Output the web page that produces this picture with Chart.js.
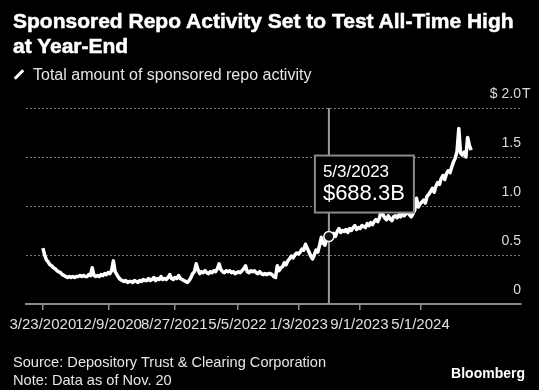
<!DOCTYPE html>
<html>
<head>
<meta charset="utf-8">
<script src="https://cdn.jsdelivr.net/npm/chart.js@4/dist/chart.umd.min.js"></script>
<style>
  html, body { margin: 0; padding: 0; background: #000; }
  #wrap { position: relative; width: 539px; height: 390px; overflow: hidden; background: #000; }
  #chart { position: absolute; left: 0; top: 0; }
  .txt { position: absolute; color: #fff; font-family: "Liberation Sans", Arial, sans-serif; white-space: nowrap; }
  #title { left: 13px; top: 8px; font-size: 21px; font-weight: bold; line-height: 25px; -webkit-text-stroke: 0.5px #fff; }
  #sub { left: 13px; top: 66px; font-size: 16px; color: #e6e6e6; }
  #sub span.ico { display: inline-block; width: 12px; height: 3px; background: #fff; transform: rotate(-45deg); margin-right: 8px; vertical-align: 4px; }
  #src { left: 13px; top: 353px; font-size: 14.6px; line-height: 18px; color: #e6e6e6; }
  #brand { right: 14px; top: 365px; font-size: 14px; font-weight: bold; }
</style>
</head>
<body>
<div id="wrap">
  <canvas id="chart" width="539" height="390"></canvas>
  <div class="txt" id="title">Sponsored Repo Activity Set to Test All-Time High<br>at Year-End</div>
  <div class="txt" id="sub"><span class="ico"></span>Total amount of sponsored repo activity</div>
  <div class="txt" id="src">Source: Depository Trust &amp; Clearing Corporation<br>Note: Data as of Nov. 20</div>
  <div class="txt" id="brand">Bloomberg</div>
</div>
<script>
// weekly readings, trillions of dollars, starting 3/23/2020
const startDate = '2020-03-23';
const stepDays = 7;
const values = [
  0.57, 0.50, 0.45, 0.43, 0.40, 0.39, 0.37, 0.36, 0.34, 0.33,
  0.32, 0.30, 0.29, 0.28, 0.27, 0.28, 0.27, 0.28, 0.27, 0.28,
  0.28, 0.29, 0.28, 0.29, 0.28, 0.28, 0.30, 0.29, 0.37, 0.29,
  0.28, 0.29, 0.28, 0.30, 0.29, 0.31, 0.30, 0.32, 0.31, 0.34,
  0.44, 0.33, 0.30, 0.27, 0.25, 0.24, 0.23, 0.24, 0.22, 0.23,
  0.23, 0.22, 0.24, 0.23, 0.22, 0.24, 0.23, 0.25, 0.24, 0.24,
  0.26, 0.24, 0.25, 0.27, 0.24, 0.26, 0.25, 0.28, 0.25, 0.26,
  0.25, 0.27, 0.30, 0.26, 0.25, 0.27, 0.26, 0.29, 0.26, 0.25,
  0.24, 0.23, 0.22, 0.24, 0.27, 0.31, 0.33, 0.41, 0.35, 0.31,
  0.33, 0.32, 0.34, 0.32, 0.31, 0.33, 0.32, 0.34, 0.33, 0.36,
  0.41, 0.35, 0.33, 0.32, 0.34, 0.33, 0.34, 0.32, 0.33, 0.31,
  0.32, 0.33, 0.32, 0.34, 0.36, 0.39, 0.33, 0.32, 0.34, 0.33,
  0.34, 0.32, 0.31, 0.33, 0.31, 0.30, 0.31, 0.30, 0.31, 0.31,
  0.30, 0.28, 0.27, 0.39, 0.34, 0.37, 0.38, 0.42, 0.40, 0.44,
  0.46, 0.49, 0.47, 0.50, 0.52, 0.51, 0.53, 0.56, 0.55, 0.61,
  0.57, 0.53, 0.49, 0.46, 0.50, 0.55, 0.53, 0.60, 0.68, 0.62,
  0.60, 0.66, 0.69, 0.65, 0.70, 0.72, 0.69, 0.74, 0.77, 0.73,
  0.75, 0.74, 0.76, 0.73, 0.77, 0.75, 0.78, 0.80, 0.76, 0.78,
  0.77, 0.80, 0.79, 0.78, 0.82, 0.80, 0.83, 0.81, 0.84, 0.86,
  0.84, 0.88, 0.96, 0.91, 0.88, 0.86, 0.90, 0.87, 0.85, 0.89,
  0.90, 0.88, 0.91, 0.89, 0.93, 0.90, 0.92, 0.95, 0.91, 0.89,
  0.92, 0.96, 1.08, 0.99, 1.02, 1.04, 1.06, 1.03, 1.10, 1.12,
  1.15, 1.18, 1.14, 1.20, 1.24, 1.22, 1.28, 1.31, 1.27, 1.33,
  1.36, 1.34, 1.40, 1.45, 1.49, 1.56, 1.79, 1.54, 1.52, 1.55,
  1.50, 1.70, 1.62, 1.57
];

const tickDates = ['2020-03-23', '2020-12-09', '2021-08-27', '2022-05-05', '2023-01-03', '2023-09-01', '2024-05-01'];
const axisStart = '2020-01-16';
const axisEnd = '2025-06-04';
const yTicks = [0, 0.5, 1.0, 1.5, 2.0];

const highlightDate = '2023-05-03';
const highlightValue = 0.6883;
const highlightLabel = '$688.3B';

function dayNum(s) {
  const p = s.split('-').map(Number);
  return Date.UTC(p[0], p[1] - 1, p[2]) / 864e5;
}
function fmtDay(n) {
  const d = new Date(n * 864e5);
  return (d.getUTCMonth() + 1) + '/' + d.getUTCDate() + '/' + d.getUTCFullYear();
}

const start = dayNum(startDate);
const points = values.map((v, i) => ({ x: start + i * stepDays, y: v }));
const hl = { x: dayNum(highlightDate), y: highlightValue };

const extras = {
  id: 'extras',
  beforeDatasetsDraw(chart) {
    const { ctx, chartArea, scales } = chart;
    const x = scales.x.getPixelForValue(hl.x);
    ctx.save();
    ctx.strokeStyle = '#9a9a9a';
    ctx.lineWidth = 2;
    ctx.beginPath();
    ctx.moveTo(x, chartArea.top);
    ctx.lineTo(x, chartArea.bottom);
    ctx.stroke();
    ctx.restore();
  },
  afterDraw(chart) {
    const { ctx, chartArea, scales } = chart;
    const px = scales.x.getPixelForValue(hl.x);
    const py = scales.y.getPixelForValue(hl.y);
    const bx = px - 14, by = py - 81, bw = 99, bh = 57;
    ctx.save();
    ctx.fillStyle = '#000';
    ctx.fillRect(bx, by, bw, bh);
    ctx.strokeStyle = '#8a8a8a';
    ctx.lineWidth = 2;
    ctx.strokeRect(bx, by, bw, bh);
    ctx.fillStyle = '#fff';
    ctx.textBaseline = 'middle';
    ctx.textAlign = 'left';
    ctx.font = '17px "Liberation Sans", Arial, sans-serif';
    ctx.fillText(fmtDay(hl.x), bx + 8, by + 17);
    ctx.font = '22px "Liberation Sans", Arial, sans-serif';
    ctx.fillText(highlightLabel, bx + 8, by + 38);
    // unit suffix after the top tick label
    ctx.font = '14px "Liberation Sans", Arial, sans-serif';
    ctx.fillStyle = '#dcdcdc';
    ctx.fillText('T', chartArea.right + 1, scales.y.getPixelForValue(2) - 14);
    ctx.restore();
  }
};

new Chart(document.getElementById('chart'), {
  type: 'line',
  data: {
    datasets: [
      {
        data: [hl],
        type: 'scatter',
        pointRadius: 5,
        pointBackgroundColor: '#111',
        pointBorderColor: '#fff',
        pointBorderWidth: 1.5,
        order: 0
      },
      {
        data: points,
        borderColor: '#fff',
        borderWidth: 3.5,
        borderJoinStyle: 'round',
        pointRadius: 0,
        tension: 0,
        order: 1
      }
    ]
  },
  plugins: [extras],
  options: {
    responsive: false,
    animation: false,
    layout: { padding: { left: 26, top: 108, right: 18, bottom: 50 } },
    plugins: { legend: { display: false }, tooltip: { enabled: false } },
    scales: {
      x: {
        type: 'linear',
        min: dayNum(axisStart),
        max: dayNum(axisEnd),
        afterBuildTicks: s => { s.ticks = tickDates.map(d => ({ value: dayNum(d) })); },
        grid: { drawOnChartArea: false, drawTicks: true, tickLength: 6, color: '#8c8c8c', lineWidth: 1.5 },
        border: { color: '#8c8c8c', width: 2 },
        ticks: {
          autoSkip: false, maxRotation: 0, padding: 6,
          color: '#e0e0e0',
          font: { family: '"Liberation Sans", Arial, sans-serif', size: 15 },
          callback: v => fmtDay(v)
        }
      },
      y: {
        position: 'right',
        min: 0,
        max: 2,
        afterBuildTicks: s => { s.ticks = yTicks.map(v => ({ value: v })); },
        grid: {
          drawTicks: false,
          color: c => c.tick && c.tick.value === 0 ? 'rgba(0,0,0,0)' : '#777',
          lineWidth: 1
        },
        border: { display: false, dash: [2, 2] },
        ticks: {
          mirror: true, padding: 0, labelOffset: -14,
          color: '#dcdcdc',
          font: { family: '"Liberation Sans", Arial, sans-serif', size: 14 },
          callback: v => v === 2 ? '$ 2.0' : v === 0 ? '0' : v.toFixed(1)
        }
      }
    }
  }
});
</script>
</body>
</html>
